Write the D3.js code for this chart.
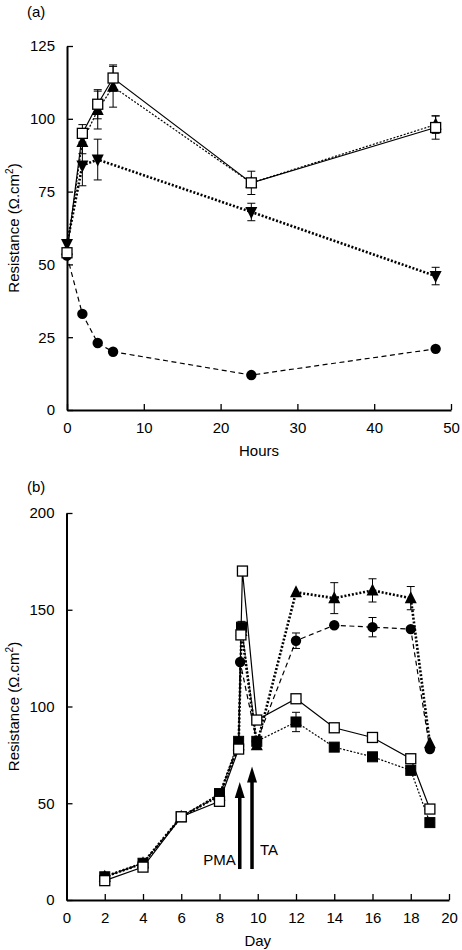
<!DOCTYPE html>
<html><head><meta charset="utf-8">
<script src="https://cdn.jsdelivr.net/npm/d3@7"></script>
<style>body{margin:0;background:#fff}svg text{font-family:"Liberation Sans",Arial,sans-serif;fill:#000}</style>
</head><body>
<svg id="c" width="462" height="950"></svg>
<script>
// ---------- Panel (a) data ----------
const hoursTicks = [0,10,20,30,40,50];
const resATicks = [0,25,50,75,100,125];
const aSquareX = [0,2,4,6,24,48];
const aSquareY = [54,95,105,114,78,97];
const aSquareE = [0,3,5,4.5,4,4];
const aUpTriX = [0,2,4,6,24,48];
const aUpTriY = [55,92,103,111,78,98];
const aUpTriE = [0,4,6.5,7,0,3];
const aDownTriX = [0,2,4,24,48];
const aDownTriY = [57,84,86,68,46];
const aDownTriE = [0,7,7,3,3];
const aCircleX = [0,2,4,6,24,48];
const aCircleY = [53,33,23,20,12,21];
const aCircleE = [0,0,0,0,0,0];

// ---------- Panel (b) data ----------
const dayTicks = [0,2,4,6,8,10,12,14,16,18,20];
const resBTicks = [0,50,100,150,200];
const bSquareX = [2,4,6,8,9,9.12,9.2,9.95,12,14,16,18,19];
const bSquareY = [10,17,43,51,78,137,170,93,104,89,84,73,47];
const bSquareE = [0,0,0,0,0,0,0,0,0,0,0,0,0];
const bFSquareX = [2,4,6,8,9,9.15,9.95,12,14,16,18,19];
const bFSquareY = [12,19,43,55,82,141,82,92,79,74,67,40];
const bFSquareE = [0,0,0,0,0,3,0,5,0,0,0,0];
const bTriX = [2,4,6,8,9,9.15,9.95,12,14,16,18,19];
const bTriY = [12,19,43,54,80,139,80,159,156,160,156,81];
const bTriE = [0,0,0,0,0,0,0,0,8,6,6,0];
const bCircleX = [2,4,6,8,9,9.08,9.95,12,14,16,18,19];
const bCircleY = [12,19,43,54,80,123,82,134,142,141,140,78];
const bCircleE = [0,0,0,0,0,0,0,4,0,5,0,0];
const arrowDays = [9.06, 9.7];
const arrowTips = [61, 69];
const arrowBase = 16;
const arrowLabels = ["PMA","TA"];

const svg = d3.select("#c");

const styles = {
  solid:  {w:1.2, dash:null},
  fine:   {w:1.2, dash:"2,1.6"},
  thick:  {w:2.6, dash:"2,1.8"},
  dashed: {w:1.2, dash:"5,3.5"}
};

function marker(g, type, x, y){
  if(type==="osq"){
    g.append("rect").attr("x",x-5).attr("y",y-5).attr("width",10).attr("height",10)
     .attr("fill","#fff").attr("stroke","#000").attr("stroke-width",1.3);
  } else if(type==="fsq"){
    g.append("rect").attr("x",x-5).attr("y",y-5).attr("width",10).attr("height",10)
     .attr("fill","#000").attr("stroke","#000").attr("stroke-width",1);
  } else if(type==="up"){
    g.append("path").attr("d",`M${x},${y-7}L${x+6},${y+5}L${x-6},${y+5}Z`).attr("fill","#000");
  } else if(type==="down"){
    g.append("path").attr("d",`M${x},${y+7}L${x+6},${y-5}L${x-6},${y-5}Z`).attr("fill","#000");
  } else if(type==="circ"){
    g.append("circle").attr("cx",x).attr("cy",y).attr("r",5.2).attr("fill","#000");
  }
}

function panel(cfg){
  const x = d3.scaleLinear().domain(cfg.xDomain).range(cfg.xRange);
  const y = d3.scaleLinear().domain(cfg.yDomain).range(cfg.yRange);
  const g = svg.append("g");
  const ax = g.append("g").attr("transform",`translate(0,${cfg.yRange[0]})`)
    .call(d3.axisBottom(x).tickValues(cfg.xTicks).tickSizeInner(-6).tickSizeOuter(0).tickPadding(12));
  const ay = g.append("g").attr("transform",`translate(${cfg.xRange[0]},0)`)
    .call(d3.axisLeft(y).tickValues(cfg.yTicks).tickSizeInner(-6).tickSizeOuter(0).tickPadding(12));
  [ax,ay].forEach(a=>{
    a.select(".domain").attr("stroke","#000").attr("stroke-width",2);
    a.selectAll(".tick line").attr("stroke","#000").attr("stroke-width",1.3);
    a.selectAll(".tick text").attr("font-size",15).attr("font-family","Liberation Sans, Arial, sans-serif");
  });
  cfg.series.forEach(s=>{
    const pts = s.x.map((d,i)=>[x(d),y(s.y[i])]);
    const st = styles[s.line];
    g.append("path").attr("d",d3.line()(pts)).attr("fill","none").attr("stroke","#000")
      .attr("stroke-width",st.w).attr("stroke-dasharray",st.dash);
  });
  cfg.series.forEach(s=>{
    s.x.forEach((d,i)=>{
      const e = s.e[i]; if(!e) return;
      const cx = x(d), y1 = y(s.y[i]+e), y2 = y(s.y[i]-e);
      g.append("line").attr("x1",cx).attr("x2",cx).attr("y1",y1).attr("y2",y2).attr("stroke","#000").attr("stroke-width",1);
      [y1,y2].forEach(yy=>g.append("line").attr("x1",cx-4).attr("x2",cx+4).attr("y1",yy).attr("y2",yy).attr("stroke","#000").attr("stroke-width",1));
    });
  });
  cfg.series.forEach(s=>{
    s.x.forEach((d,i)=>marker(g,s.m,x(d),y(s.y[i])));
  });
  svg.append("text").attr("x",cfg.labelPos[0]).attr("y",cfg.labelPos[1]).attr("font-size",15).text(cfg.label);
  svg.append("text").attr("x",(cfg.xRange[0]+cfg.xRange[1])/2).attr("y",cfg.yRange[0]+46)
    .attr("text-anchor","middle").attr("font-size",15).text(cfg.xTitle);
  const yt = svg.append("text").attr("transform",`translate(19,${(cfg.yRange[0]+cfg.yRange[1])/2}) rotate(-90)`)
    .attr("text-anchor","middle").attr("font-size",15);
  yt.append("tspan").text("Resistance (Ω.cm");
  yt.append("tspan").attr("font-size",10).attr("dy",-6).text("2");
  yt.append("tspan").attr("dy",6).text(")");
  return {x,y,g};
}

panel({
  xDomain:[0,50], xRange:[67,451], yDomain:[0,125], yRange:[410,46],
  xTicks:hoursTicks, yTicks:resATicks, label:"(a)", labelPos:[27,17], xTitle:"Hours",
  series:[
    {x:aCircleX,y:aCircleY,e:aCircleE,m:"circ",line:"dashed"},
    {x:aDownTriX,y:aDownTriY,e:aDownTriE,m:"down",line:"thick"},
    {x:aUpTriX,y:aUpTriY,e:aUpTriE,m:"up",line:"fine"},
    {x:aSquareX,y:aSquareY,e:aSquareE,m:"osq",line:"solid"}
  ]
});

const pb = panel({
  xDomain:[0,20], xRange:[66.5,449], yDomain:[0,200], yRange:[900,513],
  xTicks:dayTicks, yTicks:resBTicks, label:"(b)", labelPos:[27,492], xTitle:"Day",
  series:[
    {x:bTriX,y:bTriY,e:bTriE,m:"up",line:"thick"},
    {x:bCircleX,y:bCircleY,e:bCircleE,m:"circ",line:"dashed"},
    {x:bFSquareX,y:bFSquareY,e:bFSquareE,m:"fsq",line:"fine"},
    {x:bSquareX,y:bSquareY,e:bSquareE,m:"osq",line:"solid"}
  ]
});

// arrows
arrowDays.forEach((d,i)=>{
  const ax = pb.x(d);
  const tip = pb.y(arrowTips[i]);
  const base = pb.y(arrowBase);
  pb.g.append("line").attr("x1",ax).attr("x2",ax).attr("y1",base).attr("y2",tip+12).attr("stroke","#000").attr("stroke-width",3.5);
  pb.g.append("path").attr("d",`M${ax},${tip}L${ax+5},${tip+16}L${ax-5},${tip+16}Z`).attr("fill","#000");
});
svg.append("text").attr("x",pb.x(arrowDays[0])-4).attr("y",865).attr("text-anchor","end").attr("font-size",15).text(arrowLabels[0]);
svg.append("text").attr("x",pb.x(arrowDays[1])+8).attr("y",855).attr("text-anchor","start").attr("font-size",15).text(arrowLabels[1]);
</script>
</body></html>
